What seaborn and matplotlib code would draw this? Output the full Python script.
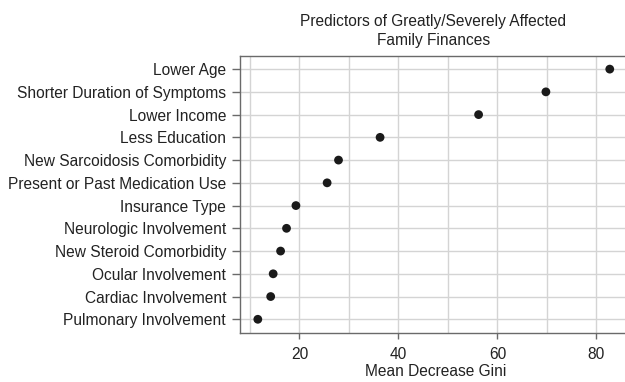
import matplotlib
matplotlib.use("Agg")
import matplotlib.pyplot as plt
import seaborn as sns
import pandas as pd

predictors = [
    "Lower Age",
    "Shorter Duration of Symptoms",
    "Lower Income",
    "Less Education",
    "New Sarcoidosis Comorbidity",
    "Present or Past Medication Use",
    "Insurance Type",
    "Neurologic Involvement",
    "New Steroid Comorbidity",
    "Ocular Involvement",
    "Cardiac Involvement",
    "Pulmonary Involvement",
]
gini = [82.7, 69.8, 56.2, 36.3, 27.9, 25.6, 19.3, 17.4, 16.2, 14.7, 14.2, 11.6]
x_ticks = [20, 40, 60, 80]
title_lines = ["Predictors of Greatly/Severely Affected", "Family Finances"]
x_label = "Mean Decrease Gini"

df = pd.DataFrame({"predictor": predictors, "gini": gini})

sns.set_theme(style="white")
plt.rcParams["font.family"] = ["Liberation Sans", "DejaVu Sans"]

FS = 11.2
fig = plt.figure(figsize=(6.25, 3.82), dpi=100)
ax_w_px = 392
ax = fig.add_axes([240 / 625, 1 - 332.7 / 382, ax_w_px / 625, (332.7 - 55.7) / 382])

# grid
ax.set_xticks(range(10, 90, 10), minor=True)
ax.grid(True, which="minor", axis="x", color="#d4d4d4", lw=1.0)
ax.grid(True, which="major", axis="both", color="#d4d4d4", lw=1.0)
ax.set_axisbelow(True)

sns.scatterplot(data=df, x="gini", y="predictor", ax=ax, color="#1a1a1a",
                s=40, edgecolor="none", zorder=3)

ax.set_xlim(8.0, 8.0 + ax_w_px / 4.95)
ax.set_ylim(11.59, -0.59)
ax.set_xticks(x_ticks)
ax.set_xticklabels([str(v) for v in x_ticks])
ax.set_xlabel(x_label, fontsize=FS, color="#222222", labelpad=2)
ax.set_ylabel("")

for side in ["left", "bottom", "top", "right"]:
    ax.spines[side].set_color("#6a6a6a")
    ax.spines[side].set_linewidth(1.0)
ax.spines["right"].set_visible(False)
ax.tick_params(axis="y", which="major", length=6, width=1.0, color="#6a6a6a",
               labelsize=FS, labelcolor="#222222", pad=4, left=True)
ax.tick_params(axis="x", which="major", length=4, width=1.0, color="#6a6a6a",
               labelsize=FS, labelcolor="#222222", pad=6, bottom=True)
ax.tick_params(axis="x", which="minor", length=0)

for line, base_y in zip(title_lines, [26, 45]):
    fig.text(433.5 / 625, 1 - base_y / 382, line, ha="center", va="baseline",
             fontsize=FS, color="#222222")

fig.savefig("out.png", dpi=100)
